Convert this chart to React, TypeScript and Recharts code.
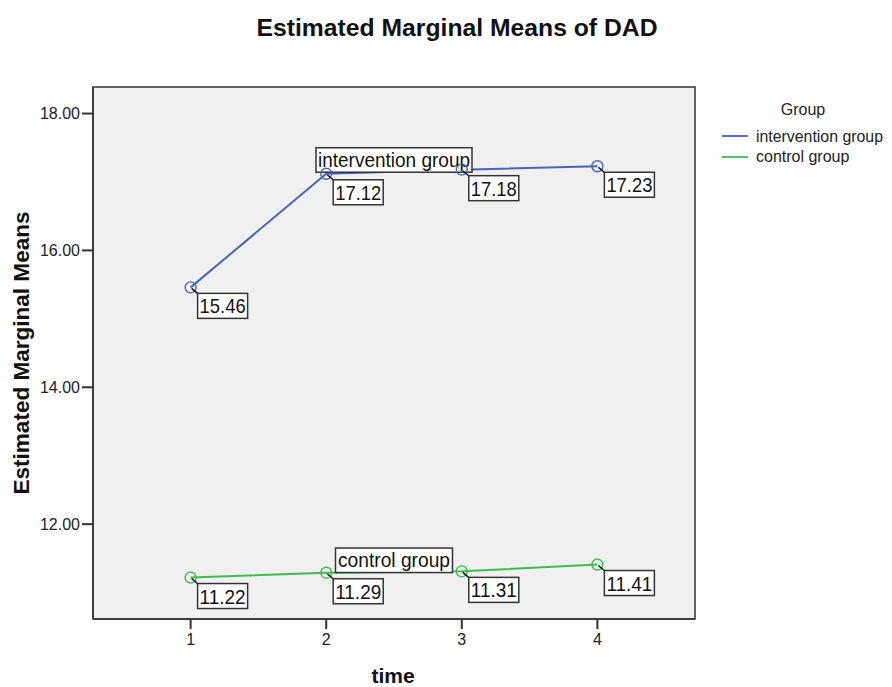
import { LineChart, Line, XAxis, YAxis, ReferenceArea, ReferenceDot, LabelList, Legend } from 'recharts';

const times = [1, 2, 3, 4];
const intervention = [15.46, 17.12, 17.18, 17.23];
const control = [11.22, 11.29, 11.31, 11.41];
const yTicks = [12, 14, 16, 18];
const seriesNames = ['intervention group', 'control group'];

const BLUE = '#4a63bd';
const GREEN = '#3ebd4f';
const FONT = '"Liberation Sans", Arial, sans-serif';
const X_DOMAIN: [number, number] = [0.28, 4.72];
const Y_DOMAIN: [number, number] = [10.614, 18.388];

const data = times.map((t, i) => ({ time: t, intervention: intervention[i], control: control[i] }));

const openDot = (color: string) => (p: any) => (
  <circle key={p.index} cx={p.cx} cy={p.cy} r={5.5} fill="none" stroke={color} strokeWidth={1.4} />
);

function ValueBox(p: any) {
  const { x, y, value } = p;
  if (x == null || y == null) return null;
  return (
    <g>
      <line x1={x + 1} y1={y + 1} x2={x + 8} y2={y + 7} stroke="#111" strokeWidth={1.4} />
      <rect x={x + 7} y={y + 6} width={50} height={25} fill="#fff" stroke="#333" strokeWidth={1.5} />
      <text x={x + 32} y={y + 26} textAnchor="middle" fontFamily={FONT} fontSize={21} fill="#111"
        textLength={46} lengthAdjust="spacingAndGlyphs">
        {Number(value).toFixed(2)}
      </text>
    </g>
  );
}

const nameBox = (name: string, w: number, tw: number) => (p: any) => {
  const { cx, cy } = p;
  return (
    <g>
      <rect x={cx - w / 2} y={cy - 24} width={w} height={24.5} fill="#fff" stroke="#333" strokeWidth={1.5} />
      <text x={cx} y={cy - 5} textAnchor="middle" fontFamily={FONT} fontSize={20} fill="#111"
        textLength={tw} lengthAdjust="spacingAndGlyphs">
        {name}
      </text>
    </g>
  );
};

function GroupLegend() {
  return (
    <svg width={190} height={80} style={{ display: 'block' }}>
      <text x={103} y={20} textAnchor="middle" fontFamily={FONT} fontSize={16} fill="#222">Group</text>
      <line x1={22} y1={41} x2={48} y2={41} stroke={BLUE} strokeWidth={1.8} />
      <text x={56} y={47} fontFamily={FONT} fontSize={16} fill="#222" textLength={127} lengthAdjust="spacingAndGlyphs">{seriesNames[0]}</text>
      <line x1={22} y1={62} x2={48} y2={62} stroke={GREEN} strokeWidth={1.8} />
      <text x={56} y={67} fontFamily={FONT} fontSize={16} fill="#222">{seriesNames[1]}</text>
    </svg>
  );
}

export default function App() {
  const mid = (arr: number[]) => (arr[1] + arr[2]) / 2;
  return (
    <div style={{ position: 'absolute', left: 0, top: 0, width: 892, height: 687, background: '#fff' }}>
      <LineChart width={892} height={687} data={data} margin={{ top: 87, right: 197, bottom: 0, left: 0 }}>
        <ReferenceArea x1={X_DOMAIN[0]} x2={X_DOMAIN[1]} y1={Y_DOMAIN[0]} y2={Y_DOMAIN[1]}
          fill="#f0f0f0" fillOpacity={1} stroke="#333" strokeWidth={1.5} />
        <XAxis dataKey="time" type="number" domain={X_DOMAIN} ticks={times} allowDataOverflow
          height={68} tickSize={10} tickMargin={5} axisLine={{ stroke: '#333', strokeWidth: 1.5 }}
          tickLine={{ stroke: '#333', strokeWidth: 2 }}
          tick={{ fontFamily: FONT, fontSize: 16, fill: '#222' }} />
        <YAxis type="number" domain={Y_DOMAIN} ticks={yTicks} allowDataOverflow width={93}
          tickSize={11} tickMargin={2} axisLine={{ stroke: '#333', strokeWidth: 1.5 }}
          tickLine={{ stroke: '#333', strokeWidth: 2 }}
          tickFormatter={(v: number) => v.toFixed(2)}
          tick={{ fontFamily: FONT, fontSize: 16, fill: '#222' }} />
        <Line dataKey="intervention" name={seriesNames[0]} type="linear" stroke={BLUE} strokeWidth={2}
          dot={openDot(BLUE)} activeDot={false} isAnimationActive={false}>
          <LabelList dataKey="intervention" content={ValueBox} />
        </Line>
        <Line dataKey="control" name={seriesNames[1]} type="linear" stroke={GREEN} strokeWidth={2}
          dot={openDot(GREEN)} activeDot={false} isAnimationActive={false}>
          <LabelList dataKey="control" content={ValueBox} />
        </Line>
        <ReferenceDot x={(times[1] + times[2]) / 2} y={mid(intervention)} r={1}
          shape={nameBox(seriesNames[0], 156, 152)} />
        <ReferenceDot x={(times[1] + times[2]) / 2} y={mid(control)} r={1}
          shape={nameBox(seriesNames[1], 117, 112)} />
        <Legend layout="vertical" align="center" verticalAlign="middle" content={GroupLegend}
          wrapperStyle={{ position: 'absolute', left: 700, top: 95, width: 190, height: 80 }} />
      </LineChart>
      <svg width={892} height={687} style={{ position: 'absolute', left: 0, top: 0, pointerEvents: 'none' }}>
        <text x={457} y={36} textAnchor="middle" fontFamily={FONT} fontWeight="bold" fontSize={24} fill="#111"
          textLength={401} lengthAdjust="spacingAndGlyphs">Estimated Marginal Means of DAD</text>
        <text transform="translate(29,353) rotate(-90)" textAnchor="middle" fontFamily={FONT} fontWeight="bold"
          fontSize={22} fill="#111" textLength={283} lengthAdjust="spacingAndGlyphs">Estimated Marginal Means</text>
        <text x={393} y={683} textAnchor="middle" fontFamily={FONT} fontWeight="bold" fontSize={21} fill="#111">time</text>
      </svg>
    </div>
  );
}
